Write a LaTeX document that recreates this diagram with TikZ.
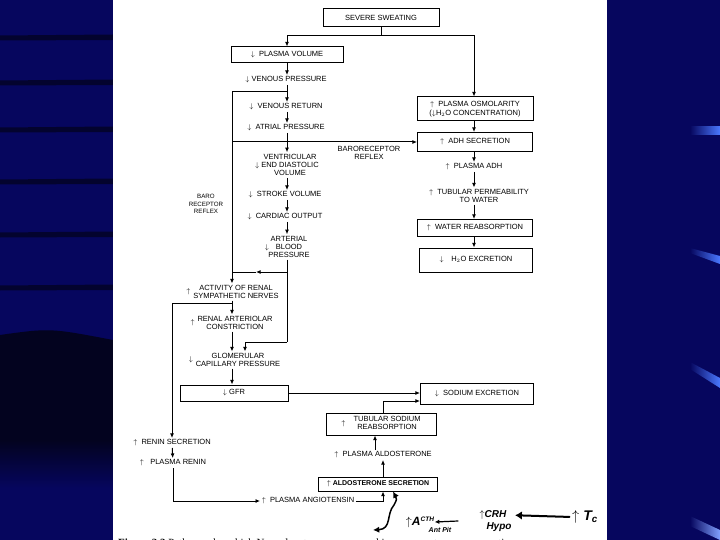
\documentclass[tikz,border=0pt]{standalone}
\usepackage{fontspec}
\setmainfont{Liberation Serif}
\setsansfont{Liberation Sans}
\usetikzlibrary{arrows.meta}
\definecolor{SWTnavy}{HTML}{06065E}
\definecolor{SWTdark}{HTML}{03031F}
\definecolor{SWTstreak}{HTML}{4A78FF}
\tikzset{swtbox/.style={draw,line width=1pt,inner sep=1pt,align=center,
 font=\sffamily\fontsize{7.5}{8.4}\selectfont},
 swttxt/.style={inner sep=1.5pt,align=center,font=\sffamily\fontsize{7.5}{8.4}\selectfont},
 swtln/.style={line width=1pt},
 swtarr/.style={-{Latex[length=1.6mm,width=1.4mm]},line width=1pt},
 swthand/.style={line width=1.5pt,line cap=round,inner sep=0pt,
 font=\sffamily\bfseries\itshape\fontsize{10}{10}\selectfont}}

\begin{document}
\begin{tikzpicture}[x=1pt,y=-1pt]
\useasboundingbox (0,0) rectangle (720,540);
\clip (0,0) rectangle (720,540);
\fill[SWTnavy] (0,0) rectangle (720,540);
\foreach \yy in {38,83,130,182,235,288}
 \fill[SWTdark,opacity=.75] (0,\yy-2.5) -- (113,\yy-3.5) -- (113,\yy+2) -- (0,\yy+2.5) -- cycle;
\fill[SWTdark] (0,335) .. controls (50,328) .. (113,340) -- (113,440) -- (0,440) -- cycle;
\shade[top color=SWTdark,bottom color=SWTnavy] (0,440) rectangle (113,488);
\shade[left color=SWTnavy,right color=SWTstreak] (690,127) rectangle (720,135);
\shade[left color=SWTnavy,right color=SWTstreak] (690,248) -- (720,256) -- (720,264) -- (690,253) -- cycle;
\shade[left color=SWTnavy,right color=SWTstreak] (690,362) -- (720,378) -- (720,388) -- (690,369) -- cycle;
\shade[left color=SWTnavy,right color=SWTstreak!70] (690,516) -- (720,530) -- (720,540) -- (690,526) -- cycle;
\fill[white] (113,0) rectangle (607,540);

\coordinate (colA) at (287,0);
\coordinate (colB) at (232,0);
\coordinate (colC) at (245,0);
\coordinate (colD) at (383,0);
\coordinate (colE) at (375,0);
\coordinate (colR) at (474,0);
\coordinate (jVen) at (287,92);
\coordinate (jBaro) at (232,142);
\coordinate (jAbp) at (287,272);
\coordinate (jAbpM) at (256,272);
\coordinate (jSym) at (232,303);
\coordinate (jGlo) at (287,342);

\node[swtbox,minimum width=116pt,minimum height=18pt] (sweat) at (381,18) {SEVERE SWEATING};
\node[swtbox,minimum width=112pt,minimum height=16pt] (plasvol) at (287,55) {$\downarrow$\ \ PLASMA VOLUME};
\node[swttxt] (venpr) at (286,80) {$\downarrow$\ VENOUS PRESSURE};
\node[swttxt] (venret) at (286,107) {$\downarrow$\ \ VENOUS RETURN};
\node[swttxt] (atrpr) at (286,128) {$\downarrow$\ \ ATRIAL PRESSURE};
\node[swttxt] (edv) at (290,165) {VENTRICULAR\\\llap{$\downarrow$\hspace{2pt}}END DIASTOLIC\\VOLUME};
\node[swttxt] (strvol) at (285,195) {$\downarrow$\ \ STROKE VOLUME};
\node[swttxt] (cardout) at (285,217) {$\downarrow$\ \ CARDIAC OUTPUT};
\node[swttxt] (abp) at (289,247) {ARTERIAL\\\llap{$\downarrow$\hspace{7pt}}BLOOD\\PRESSURE};
\node[swttxt,label={[swttxt,inner sep=1pt]left:$\uparrow$}] (sympa) at (236,292) {ACTIVITY OF RENAL\\SYMPATHETIC NERVES};
\node[swttxt,label={[swttxt,inner sep=1pt]left:$\uparrow$}] (constr) at (235,323) {RENAL ARTERIOLAR\\CONSTRICTION};
\node[swttxt,label={[swttxt,inner sep=1pt]left:$\downarrow$}] (glom) at (238,360) {GLOMERULAR\\CAPILLARY PRESSURE};
\node[swtbox,minimum width=108pt,minimum height=16pt] (gfr) at (234,393) {$\downarrow$\ GFR};
\node[swttxt] (renin) at (172,443) {$\uparrow$\ \ RENIN SECRETION};
\node[swttxt] (plren) at (173,463) {$\uparrow$\ \ \ PLASMA RENIN};
\node[swttxt] (angio) at (308,501) {$\uparrow$\ \ PLASMA ANGIOTENSIN};
\node[swtbox,minimum width=119pt,minimum height=14pt,font=\sffamily\bfseries\fontsize{7}{8}\selectfont] (aldsec) at (378,484) {$\uparrow$\ ALDOSTERONE SECRETION};
\node[swttxt] (plald) at (383,455) {$\uparrow$\ \ PLASMA ALDOSTERONE};
\node[swtbox,minimum width=110pt,minimum height=22pt] (tubna) at (381,424) {$\uparrow$\hspace{8pt}\begin{tabular}{@{}c@{}}TUBULAR SODIUM\\REABSORPTION\end{tabular}};
\node[swtbox,minimum width=113pt,minimum height=21pt] (naexc) at (477,394) {$\downarrow$\ \ SODIUM EXCRETION};
\node[swtbox,minimum width=116pt,minimum height=24pt] (osmol) at (475,109) {$\uparrow$\ \ PLASMA OSMOLARITY\\($\downarrow$H$_2$O CONCENTRATION)};
\node[swtbox,minimum width=115pt,minimum height=19pt] (adhsec) at (475,142) {$\uparrow$\ \ ADH SECRETION};
\node[swttxt] (pladh) at (474,167) {$\uparrow$\ \ PLASMA ADH};
\node[swttxt] (tubperm) at (479,196) {$\uparrow$\ \ TUBULAR PERMEABILITY\\TO WATER};
\node[swtbox,minimum width=115pt,minimum height=17pt] (watreab) at (475,228) {$\uparrow$\ \ WATER REABSORPTION};
\node[swtbox,minimum width=113pt,minimum height=24pt] (h2oexc) at (476,260) {$\downarrow$\quad H$_2$O EXCRETION};
\node[swttxt] (barolblA) at (369,153) {BARORECEPTOR\\REFLEX};
\node[swttxt,font=\sffamily\fontsize{6.2}{7.5}\selectfont] (barolblB) at (206,204) {BARO\\RECEPTOR\\REFLEX};

\draw[swtarr] (sweat.south) -- ++(0,8) -| (plasvol.north);
\draw[swtarr] (sweat.south) -- ++(0,8) -| (osmol.north -| colR);
\draw[swtarr] (plasvol.south -| colA) -- (venpr.north -| colA);
\draw[swtarr] (venpr.south -| colA) -- (venret.north -| colA);
\draw[swtarr] (venret.south -| colA) -- (atrpr.north -| colA);
\draw[swtarr] (atrpr.south -| colA) -- (edv.north -| colA);
\draw[swtarr] (edv.south -| colA) -- (strvol.north -| colA);
\draw[swtarr] (strvol.south -| colA) -- (cardout.north -| colA);
\draw[swtarr] (cardout.south -| colA) -- (abp.north -| colA);
\draw[swtarr] (jVen) -| (sympa.north -| colB);
\draw[swtarr] (jBaro) -- (adhsec.west |- jBaro);
\draw[swtln] (abp.south -| colA) -- (jGlo);
\draw[swtarr] (jGlo) -| (glom.north -| colC);
\draw[swtarr] (jAbp) -- (jAbpM);
\draw[swtln] (jAbpM) -- (jAbp -| colB);
\draw[swtarr] (sympa.south -| colB) -- (constr.north -| colB);
\draw[swtarr] (jSym) -| (renin.north);
\draw[swtarr] (constr.south -| colB) -- (glom.north -| colB);
\draw[swtarr] (glom.south -| colB) -- (gfr.north -| colB);
\draw[swtarr] (gfr.east) -- (naexc.west |- gfr.east);
\draw[swtarr] (tubna.north -| colD) |- ([yshift=-7pt]naexc.west);
\draw[swtarr] (plald.north -| colE) -- (tubna.south -| colE);
\draw[swtarr] (aldsec.north -| colD) -- (plald.south -| colD);
\draw[swtarr] (angio.east) -| (aldsec.south -| colD);
\draw[swtarr] (renin) -- (plren);
\draw[swtarr] (plren.south) |- (angio.west);
\draw[swtarr] (osmol.south -| colR) -- (adhsec.north -| colR);
\draw[swtarr] (adhsec.south -| colR) -- (pladh.north -| colR);
\draw[swtarr] (pladh.south -| colR) -- (tubperm.north -| colR);
\draw[swtarr] (tubperm.south -| colR) -- (watreab.north -| colR);
\draw[swtarr] (watreab.south -| colR) -- (h2oexc.north -| colR);

\node[swthand,font=\sffamily\bfseries\itshape\fontsize{12}{12}\selectfont] (acth) at (420,522) {$\uparrow$A\raisebox{4pt}{\fontsize{6.5}{6.5}\selectfont CTH}};
\node[swthand,font=\sffamily\bfseries\itshape\fontsize{7}{7}\selectfont] (antpit) at (440,530) {Ant Pit};
\node[swthand] (crh) at (493,515) {$\uparrow$CRH};
\node[swthand] (hypo) at (499,527) {Hypo};
\node[swthand,font=\sffamily\bfseries\itshape\fontsize{14}{14}\selectfont] (tc) at (585,517) {$\uparrow$\ T\textsubscript{c}};
\coordinate (hEnd) at (373,530);
\coordinate (hFrom) at (458,521);
\draw[swthand,{Latex[length=2.2mm,width=2.2mm]}-{Latex[length=2.2mm,width=2.2mm]}] (hEnd) .. controls (392,529) and (386,514) .. (394,505) .. controls (397,499) .. ([xshift=15pt]aldsec.south);
\draw[swthand,line width=1.2pt,-{Latex[length=1.6mm,width=1.6mm]}] (hFrom) -- (acth.east);
\draw[swthand,line width=2pt,-{Latex[length=2.4mm,width=3mm]},shorten <=2pt,shorten >=8pt] (tc.west) -- (crh.east);

\node[anchor=base west,inner sep=0pt,font=\rmfamily\fontsize{11}{11}\selectfont] (caption) at (118,546) {\textbf{Figure 3.3} Pathways by which Na and water are conserved in response to severe sweating.};
\end{tikzpicture}
\end{document}
